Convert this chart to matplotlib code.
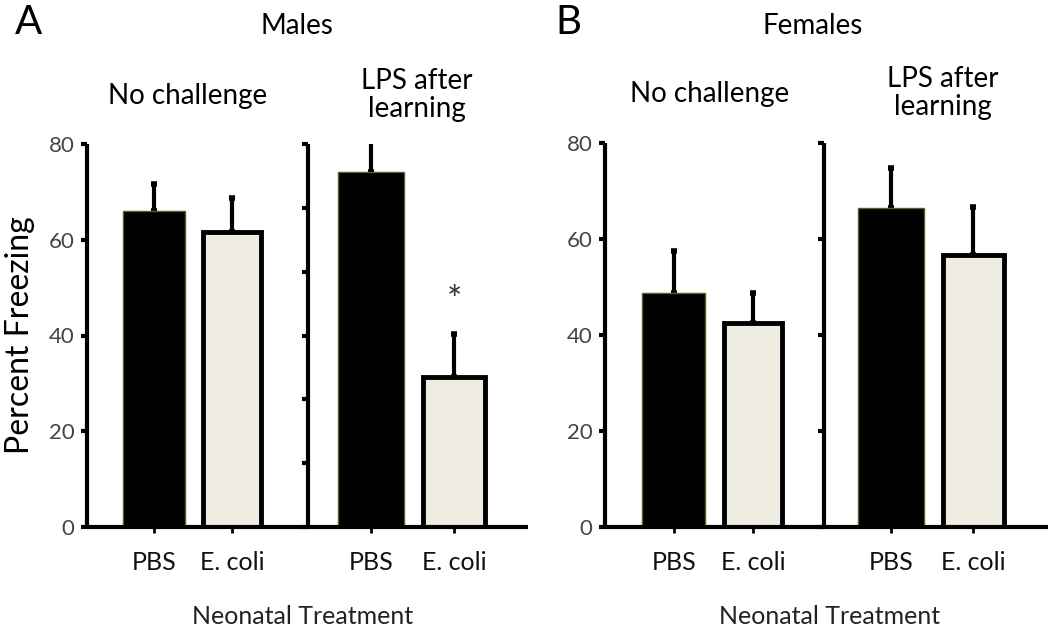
import matplotlib
matplotlib.use("Agg")
import matplotlib.pyplot as plt
import numpy as np

plt.rcParams['font.family'] = ['Lato', 'DejaVu Sans']

# ---- data ----
groups = ["PBS", "E. coli"]
male_no_challenge = [66.0, 61.7]
male_no_challenge_err = [5.7, 7.0]
male_lps = [74.2, 31.3]
male_lps_err = [7.6, 9.0]
female_no_challenge = [48.7, 42.5]
female_no_challenge_err = [8.7, 6.3]
female_lps = [66.5, 56.7]
female_lps_err = [8.3, 10.0]
star_value = 47.0

W, H = 1050, 628
fig = plt.figure(figsize=(W / 100, H / 100), dpi=100)

black = "#000000"
beige = "#eeebe0"

def px_axes(x0, x1, ytop, ybot):
    return fig.add_axes([x0 / W, 1 - ybot / H, (x1 - x0) / W, (ybot - ytop) / H])

def draw(ax, vals, errs, xlim, yticks, labels):
    x = np.arange(len(vals))
    ax.bar(x[0], vals[0], width=0.8, color=black, edgecolor="#5e5a2c", linewidth=1.0, zorder=2)
    ax.bar(x[1], vals[1], width=0.74, color=beige, edgecolor=black, linewidth=3.5, zorder=2)
    ax.errorbar(x, vals, yerr=[np.zeros(len(errs)), errs], fmt="none", ecolor=black,
                elinewidth=3, capsize=2.5, capthick=4, zorder=1)
    ax.set_xlim(*xlim)
    ax.set_ylim(0, 80)
    ax.set_yticks(yticks)
    if labels:
        ax.set_yticklabels([f"{int(t)}" for t in yticks], color="#444444", fontsize=16)
    else:
        ax.set_yticklabels([])
    ax.set_xticks(x)
    ax.set_xticklabels(groups, fontsize=18, color="#111111")
    for s in ["top", "right"]:
        ax.spines[s].set_visible(False)
    for s in ["left", "bottom"]:
        ax.spines[s].set_linewidth(3)
        ax.spines[s].set_capstyle("butt")
    ax.tick_params(axis="y", direction="out", length=4, width=3, pad=5)
    ax.tick_params(axis="x", direction="out", length=4, width=2, pad=13)
    ax.patch.set_alpha(0)

ax1 = px_axes(87, 308, 144, 527)
draw(ax1, male_no_challenge, male_no_challenge_err, (-0.86, 1.97), np.arange(0, 81, 20), True)
ax2 = px_axes(308, 528, 144, 527)
draw(ax2, male_lps, male_lps_err, (-0.76, 1.89), np.linspace(0, 80, 7), False)
ax2.text(1, star_value, "*", ha="center", va="center", fontsize=26, color="#333333")
ax3 = px_axes(605, 824, 143, 527)
draw(ax3, female_no_challenge, female_no_challenge_err, (-0.87, 1.90), np.arange(0, 81, 20), True)
ax4 = px_axes(824, 1048, 143, 527)
draw(ax4, female_lps, female_lps_err, (-0.82, 1.91), np.arange(0, 81, 20), False)

ax1.set_ylabel("Percent Freezing", fontsize=23, labelpad=10)

def ftext(x, y, s, **kw):
    fig.text(x / W, 1 - y / H, s, ha="center", va="center", **kw)

ftext(28, 22, "A", fontsize=29)
ftext(568, 22, "B", fontsize=29)
ftext(297, 26, "Males", fontsize=20)
ftext(813, 26, "Females", fontsize=20)
ftext(188, 96, "No challenge", fontsize=20)
ftext(710, 94, "No challenge", fontsize=20)
ftext(417, 95, "LPS after\nlearning", fontsize=20, linespacing=1.05)
ftext(943, 93, "LPS after\nlearning", fontsize=20, linespacing=1.05)
ftext(303, 617, "Neonatal Treatment", fontsize=18, color="#222222")
ftext(830, 617, "Neonatal Treatment", fontsize=18, color="#222222")

fig.savefig("out.png", dpi=100)
